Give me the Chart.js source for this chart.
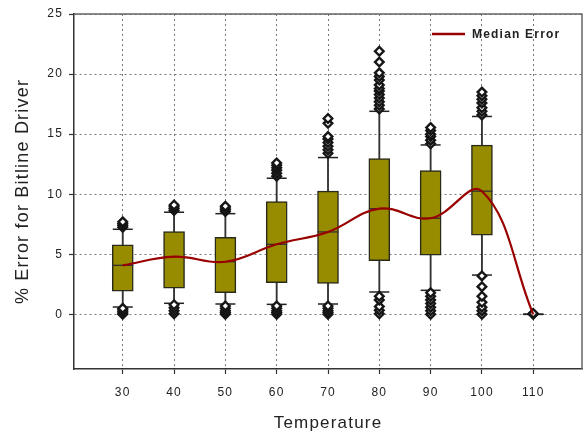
<!DOCTYPE html>
<html><head><meta charset="utf-8">
<script src="https://cdn.jsdelivr.net/npm/chart.js@4.4.1/dist/chart.umd.min.js"></script>
<style>html,body{margin:0;padding:0;background:#fff;}</style>
</head><body>
<canvas id="c" width="588" height="435"></canvas>
<script>
// ---- data ----
const temps       = [30, 40, 50, 60, 70, 80, 90, 100, 110];
const q1          = [1.92, 2.17, 1.80, 2.63, 2.58, 4.47, 4.92, 6.58, 0];
const q3          = [5.78, 6.88, 6.42, 9.38, 10.25, 12.97, 11.97, 14.08, 0];
const medians     = [4.08, 4.80, 4.38, 5.83, 6.86, 8.80, 8.00, 10.25, 0];
const whiskerLow  = [0.61, 0.92, 0.86, 0.83, 0.86, 1.86, 2.00, 3.27, 0];
const whiskerHigh = [7.08, 8.50, 8.38, 11.33, 13.05, 16.90, 14.10, 16.47, 0];
const out30  = [0, 0.12, 0.25, 0.38, 0.5, 7.25, 7.4, 7.55, 7.7];
const out40  = [0.05, 0.3, 0.55, 0.8, 8.65, 8.8, 8.95, 9.1];
const out50  = [0, 0.15, 0.3, 0.5, 0.7, 8.55, 8.7, 8.85, 9.0];
const out60  = [0, 0.15, 0.3, 0.5, 0.7, 11.5, 11.75, 12.0, 12.2, 12.4, 12.6];
const out70  = [0, 0.15, 0.3, 0.5, 0.7, 13.4, 13.7, 14.0, 14.3, 14.6, 14.8, 15.9, 16.3];
const out80  = [0.05, 0.35, 0.65, 1.2, 1.5, 17.1, 17.4, 17.7, 18.0, 18.3, 18.6, 18.8, 19.1, 19.5, 19.8, 20.1, 21.0, 21.9];
const out90  = [0, 0.3, 0.6, 0.9, 1.2, 1.5, 1.8, 14.2, 14.5, 14.8, 15.0, 15.3, 15.55];
const out100 = [0, 0.3, 0.6, 1.0, 1.5, 2.3, 3.2, 16.6, 16.9, 17.2, 17.6, 17.9, 18.2, 18.5];
const out110 = [0, 0.04, 0.08];
const xTicks = [30, 40, 50, 60, 70, 80, 90, 100, 110];
const yTicks = [0, 5, 10, 15, 20, 25];
const seriesLabel = 'Median Error';
const xTitle = 'Temperature';
const yTitle = '% Error for Bitline Driver';

// ---- derived datasets ----
const outlierSets = [out30, out40, out50, out60, out70, out80, out90, out100, out110];
const boxData = temps.map((t, i) => ({x: t, y: [q1[i], q3[i]]}));
const whiskerData = temps.map((t, i) => ({x: t, y: [whiskerLow[i], whiskerHigh[i]]}));
const capData = temps.flatMap((t, i) => [{x: t, y: whiskerLow[i]}, {x: t, y: whiskerHigh[i]}]);
const medianMarks = temps.map((t, i) => ({x: t, y: medians[i]}));
const outlierData = temps.flatMap((t, i) => outlierSets[i].map(v => ({x: t, y: v})));
const medianLine = temps.map((t, i) => ({x: t, y: medians[i]}));

const FONT = "'Liberation Sans', Arial, sans-serif";
const LS = '1.2px';

const stylePlugin = {
  id: 'styleFrame',
  beforeLayout(chart) { chart.ctx.letterSpacing = LS; },
  beforeDraw(chart) { chart.ctx.letterSpacing = LS; },
  afterDraw(chart) {
    const {ctx, chartArea: a} = chart;
    ctx.save();
    ctx.setLineDash([]);
    ctx.strokeStyle = '#666';
    ctx.lineWidth = 1.5;
    ctx.beginPath();
    ctx.moveTo(a.left, a.top); ctx.lineTo(a.right, a.top); ctx.lineTo(a.right, a.bottom);
    ctx.stroke();
    // legend
    const ds = chart.data.datasets.find(d => d.label === seriesLabel);
    const ly = a.top + 20;
    ctx.strokeStyle = ds.borderColor;
    ctx.lineWidth = 2.5;
    ctx.beginPath();
    ctx.moveTo(a.right - 150, ly); ctx.lineTo(a.right - 117, ly);
    ctx.stroke();
    ctx.letterSpacing = LS;
    ctx.font = "bold 12px " + FONT;
    ctx.fillStyle = '#222';
    ctx.textBaseline = 'middle';
    ctx.textAlign = 'left';
    ctx.fillText(ds.label, a.right - 110, ly + 0.5);
    ctx.restore();
  }
};

Chart.defaults.font.family = FONT;
Chart.defaults.color = '#222';

new Chart(document.getElementById('c'), {
  type: 'scatter',
  data: {
    datasets: [
      {type: 'line', label: seriesLabel, data: medianLine, borderColor: '#990000', backgroundColor: '#990000',
       borderWidth: 2.2, tension: 0.4, pointRadius: 0, fill: false, order: 1},
      {type: 'scatter', label: 'outliers', data: outlierData, pointStyle: 'rectRot', pointRadius: 4.3,
       borderColor: '#161616', backgroundColor: '#ffffff', borderWidth: 2.4, order: 2},
      {type: 'scatter', label: 'caps', data: capData, pointStyle: 'line', pointRadius: 10,
       borderColor: '#222', borderWidth: 1.5, order: 3},
      {type: 'scatter', label: 'medians', data: medianMarks, pointStyle: 'line', pointRadius: 10.5,
       borderColor: '#333', borderWidth: 1.3, order: 4},
      {type: 'bar', label: 'boxes', data: boxData, backgroundColor: '#978c00', borderColor: '#2a2a1a',
       borderWidth: 1.5, borderSkipped: false, barThickness: 21, grouped: false, order: 5},
      {type: 'bar', label: 'whiskers', data: whiskerData, backgroundColor: '#333', borderWidth: 0,
       barThickness: 1.2, grouped: false, order: 6}
    ]
  },
  options: {
    responsive: false,
    animation: false,
    events: [],
    devicePixelRatio: 1,
    layout: {autoPadding: false, padding: {left: 0, top: 14, right: 6, bottom: 0}},
    plugins: {legend: {display: false}, tooltip: {enabled: false}},
    scales: {
      x: {
        type: 'linear', min: 20.5, max: 119.5, offset: false,
        afterBuildTicks(s) { s.ticks = xTicks.map(v => ({value: v})); },
        afterFit(s) { s.height = 66; },
        ticks: {font: {size: 12}, padding: 11, color: '#222'},
        grid: {color: '#777', lineWidth: 1, offset: false, tickLength: 5, tickColor: '#333', tickBorderDash: [], tickWidth: 1.2},
        border: {display: true, color: '#333', width: 1.5, dash: [2, 3]},
        title: {display: true, text: xTitle, font: {size: 17}, color: '#222', padding: {top: 0, bottom: 1}}
      },
      y: {
        type: 'linear', min: -4.55, max: 25, beginAtZero: false,
        afterBuildTicks(s) { s.ticks = yTicks.map(v => ({value: v})); },
        afterFit(s) { s.width = 74; },
        ticks: {font: {size: 12}, padding: 6, color: '#222'},
        grid: {color: '#777', lineWidth: 1, tickLength: 5, tickColor: '#333', tickBorderDash: [], tickWidth: 1.2},
        border: {display: true, color: '#333', width: 1.5, dash: [2, 3]},
        title: {display: true, text: yTitle, font: {size: 18}, color: '#222', padding: {top: 12, bottom: 0}}
      }
    }
  },
  plugins: [stylePlugin]
});
</script>
</body></html>
